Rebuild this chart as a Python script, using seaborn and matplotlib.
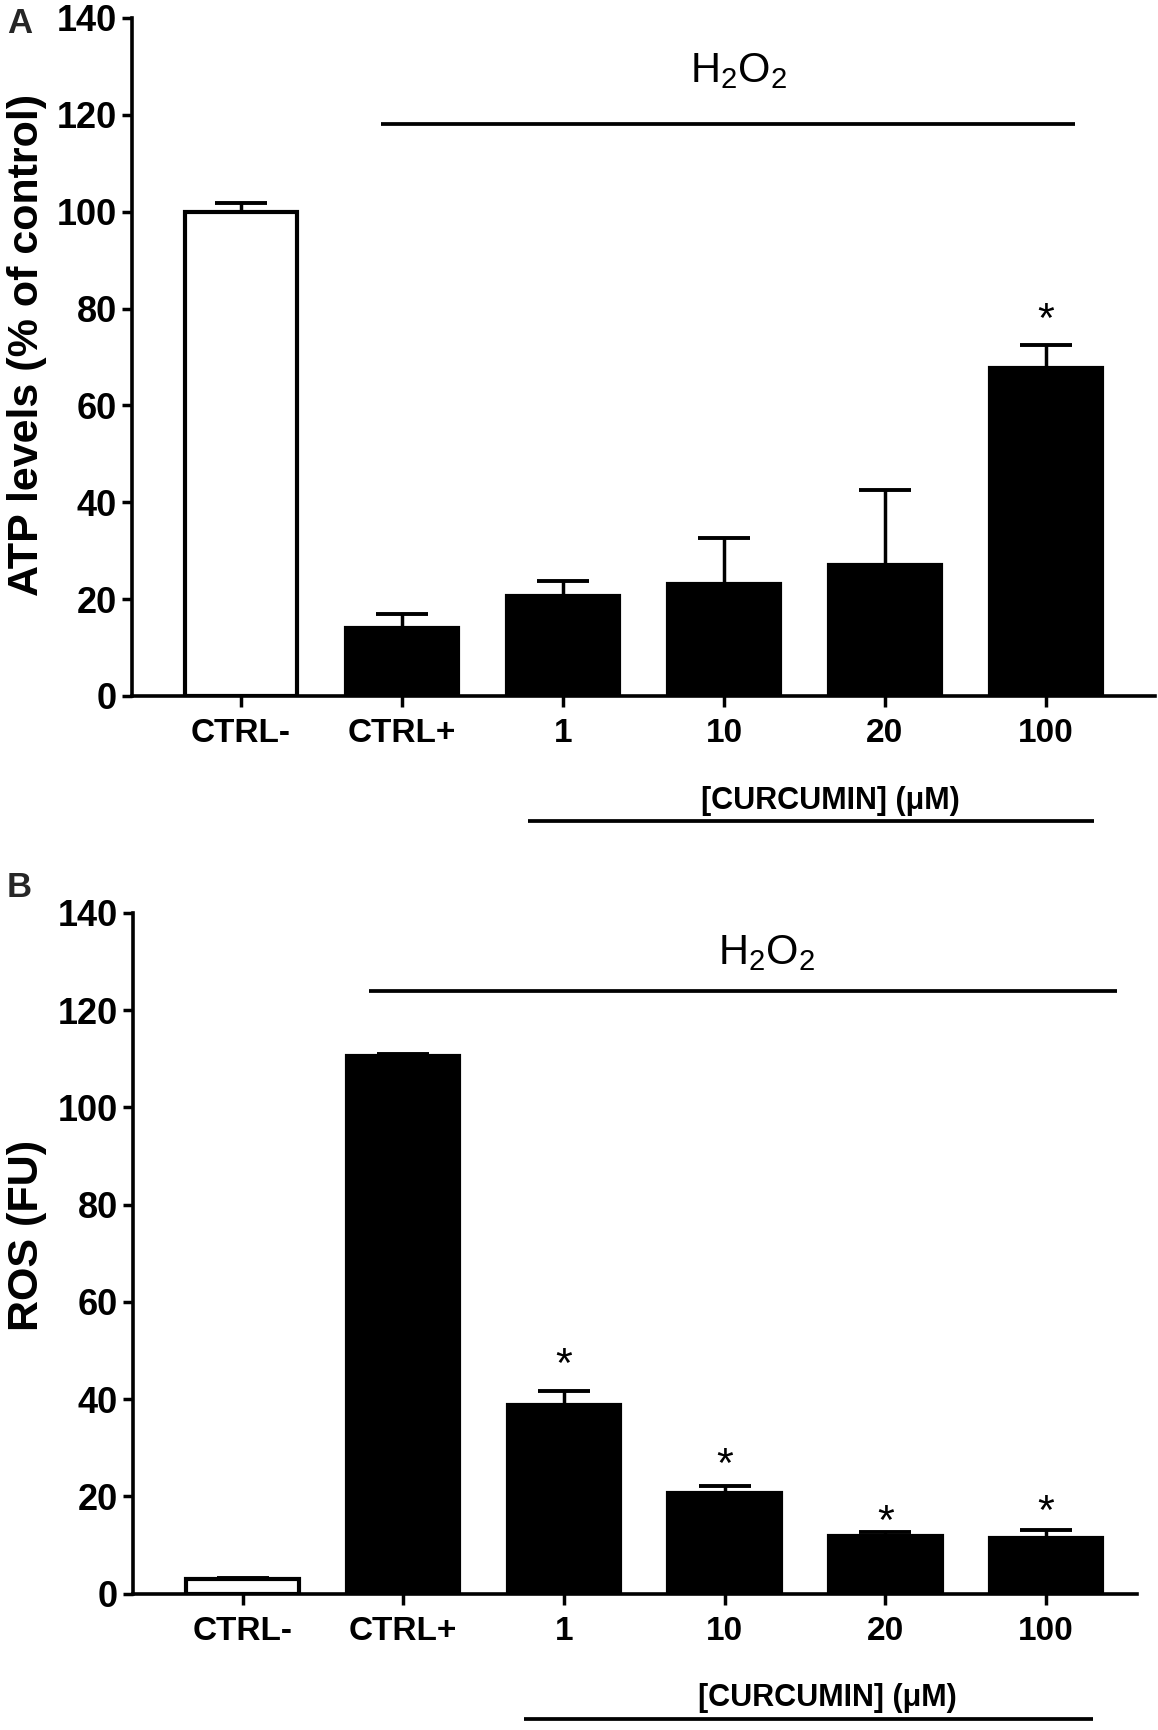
import numpy as np
import pandas as pd
import matplotlib
matplotlib.use("Agg")
import matplotlib.pyplot as plt
import seaborn as sns

# ---------------- data ----------------
categories = ["CTRL-", "CTRL+", "1", "10", "20", "100"]
atp_mean = [100.0, 14.1, 20.7, 23.2, 27.0, 67.8]
atp_sem = [1.8, 2.9, 3.0, 9.4, 15.5, 4.7]
ros_mean = [2.9, 110.6, 38.8, 20.7, 11.8, 11.4]
ros_sem = [0.2, 0.3, 2.8, 1.5, 0.9, 1.6]
bar_colors = ["white", "black", "black", "black", "black", "black"]
atp_star_idx = [5]
atp_star_y = [80.0]
ros_star_idx = [2, 3, 4, 5]
ros_star_y = [49.3, 28.9, 17.0, 19.1]
yticks = [0, 20, 40, 60, 80, 100, 120, 140]

sns.set_theme(style="ticks")
plt.rcParams["font.family"] = ["Liberation Sans", "DejaVu Sans"]
plt.rcParams["mathtext.default"] = "regular"

fig = plt.figure(figsize=(11.58, 17.30), dpi=100)
axA = fig.add_axes([0.1140, 0.5977, 0.8834, 0.3919])
axB = fig.add_axes([0.1149, 0.0789, 0.8670, 0.3934])

palette = dict(zip(categories, bar_colors))


def draw_panel(ax, means, sems, ylabel, xlim, star_idx, star_y,
               h2o2_line, h2o2_y, h2o2_text_x, h2o2_text_y,
               cur_line, cur_line_y, cur_text_x, cur_text_y, label_xy):
    df = pd.DataFrame({"group": categories, "value": means})
    sns.barplot(data=df, x="group", y="value", hue="group", order=categories,
                hue_order=categories, palette=palette, width=0.70,
                edgecolor="black", linewidth=3, errorbar=None, legend=False,
                ax=ax, zorder=2)
    x = np.arange(len(categories))
    ax.errorbar(x, means, yerr=[np.zeros(len(means)), sems], fmt="none",
                ecolor="black", elinewidth=2.5, capsize=18.5, capthick=2.8,
                zorder=1)
    ax.set_xlim(*xlim)
    ax.set_ylim(0, 140)
    ax.set_yticks(yticks)
    ax.set_yticklabels([str(t) for t in yticks], fontsize=26, fontweight="bold")
    ax.set_xticks(x)
    ax.set_xticklabels(categories, fontsize=24, fontweight="bold")
    ax.tick_params(axis="y", length=7, width=2.5, pad=4, colors="black")
    ax.tick_params(axis="x", length=8, width=2.5, pad=8, colors="black")
    for s in ["left", "bottom"]:
        ax.spines[s].set_linewidth(2.6)
        ax.spines[s].set_color("black")
    sns.despine(ax=ax)
    ax.set_xlabel("")
    ax.set_ylabel(ylabel, fontsize=31, fontweight="bold", color="black")
    ax.yaxis.set_label_coords(*label_xy)
    ax.set_facecolor("white")

    for i, yv in zip(star_idx, star_y):
        ax.annotate("*", xy=(i, yv), xytext=(0, -17), textcoords="offset points",
                    ha="center", va="baseline", fontsize=31, color="black")

    # H2O2 bar and label
    ax.plot(h2o2_line, [h2o2_y, h2o2_y], color="black", lw=2.7,
            solid_capstyle="butt", clip_on=False)
    ax.text(h2o2_text_x, h2o2_text_y, r"H$_2$O$_2$", ha="center",
            va="baseline", fontsize=30, color="black")

    # curcumin line below axis
    trans = ax.get_xaxis_transform()
    ax.plot(cur_line, [cur_line_y, cur_line_y], color="black", lw=2.7,
            solid_capstyle="butt", transform=trans, clip_on=False)
    ax.text(cur_text_x, cur_text_y, "[CURCUMIN] (\u03bcM)", ha="center",
            va="baseline", fontsize=22, fontweight="bold", transform=trans,
            color="black")


draw_panel(axA, atp_mean, atp_sem, "ATP levels (% of control)",
           (-0.677, 5.677), atp_star_idx, atp_star_y,
           (0.87, 5.18), 118.1, 3.09, 126.8,
           (1.78, 5.30), -0.184, 3.66, -0.166, (-0.083, 0.518))

draw_panel(axB, ros_mean, ros_sem, "ROS (FU)",
           (-0.681, 5.566), ros_star_idx, ros_star_y,
           (0.79, 5.44), 124.0, 3.26, 129.5,
           (1.75, 5.29), -0.184, 3.64, -0.166, (-0.086, 0.526))

fig.text(0.006, 1 - 33 / 1730, "A", fontsize=25, fontweight="bold",
         ha="left", va="baseline")
fig.text(0.006, 1 - 897 / 1730, "B", fontsize=25, fontweight="bold",
         ha="left", va="baseline")

fig.savefig("out.png", dpi=100, facecolor="white")
